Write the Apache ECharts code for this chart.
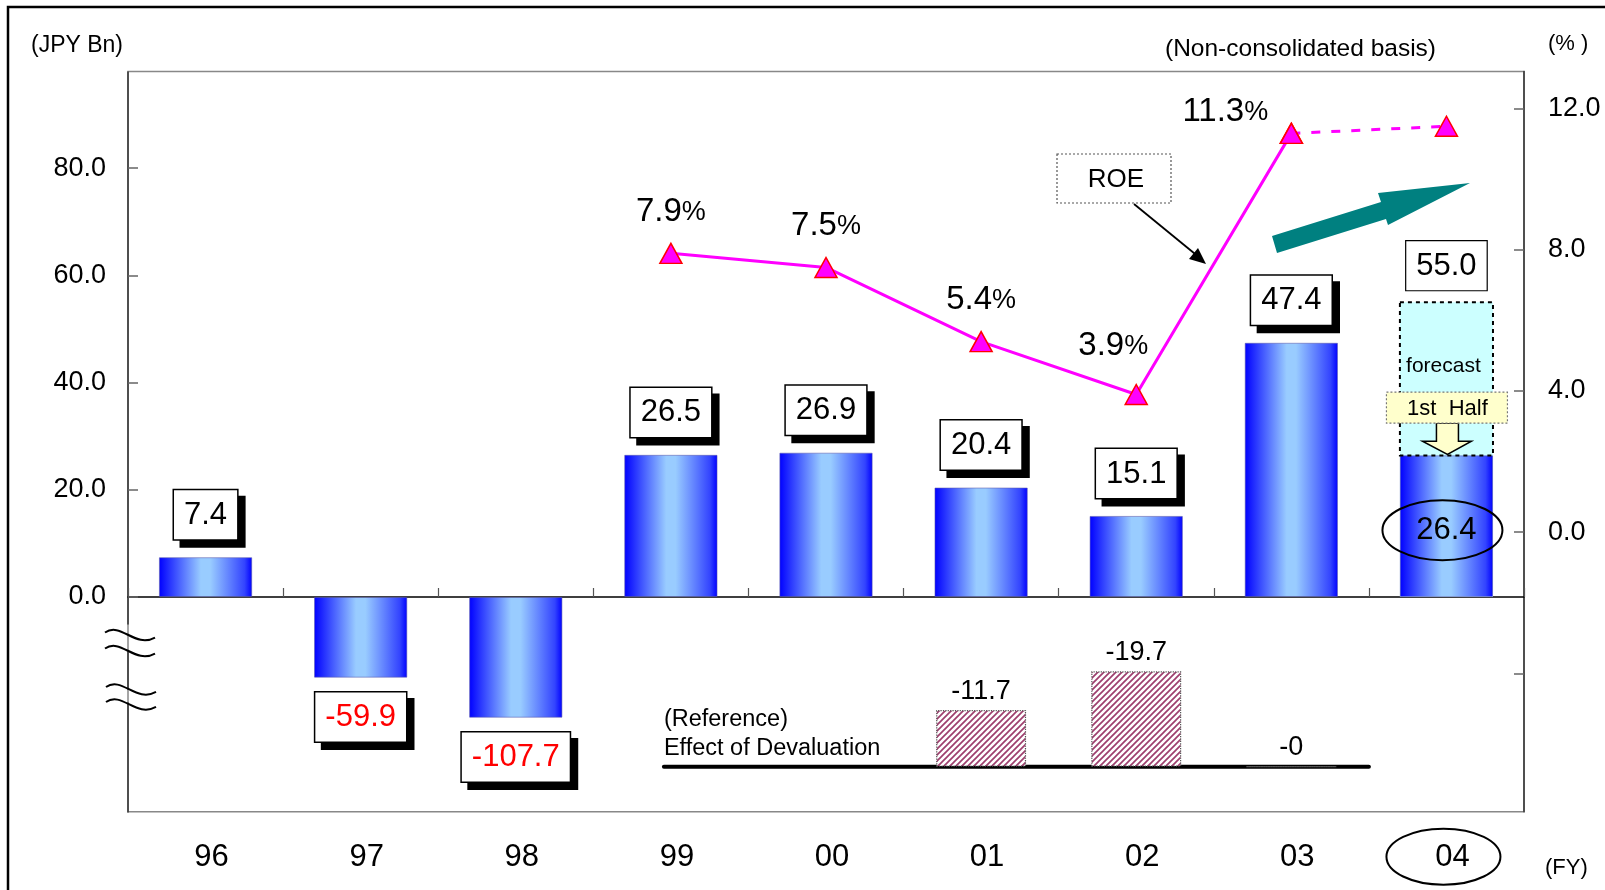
<!DOCTYPE html>
<html>
<head>
<meta charset="utf-8">
<title>Ordinary income and ROE</title>
<script src="https://cdn.jsdelivr.net/npm/echarts@6/dist/echarts.min.js"></script>
<style>
  html, body { margin: 0; padding: 0; background: #fff; }
  #main { width: 1605px; height: 890px; }
</style>
</head>
<body>
<div id="main"></div>
<script>
// ---- data ----
const fiscalYears = ['96', '97', '98', '99', '00', '01', '02', '03', '04'];
// ordinary income (JPY Bn); FY04 is the 1st-half result
const ordinaryIncome = [7.4, -59.9, -107.7, 26.5, 26.9, 20.4, 15.1, 47.4, 26.4];
// FY04 full-year forecast
const incomeForecast = [null, null, null, null, null, null, null, null, 55.0];
// ROE (%)
const roeActual = [null, null, null, 7.9, 7.5, 5.4, 3.9, 11.3, null];
const roeForecast = [null, null, null, null, null, null, null, 11.3, 11.5];
// effect of devaluation (JPY Bn)
const devaluationEffect = [null, null, null, null, null, -11.7, -19.7, -0, null];
// axis tick labels
const incomeTicks = [0, 20, 40, 60, 80];
const roeTicks = [0, 4, 8, 12];
const roeTickMarks = [-4, 0, 4, 8, 12];

const FONT = '"Liberation Sans", Arial, sans-serif';

// horizontal blue gradient of the income bars
const barFill = new echarts.graphic.LinearGradient(0, 0, 1, 0, [
  { offset: 0, color: '#0000FF' },
  { offset: 0.45, color: '#99CCFF' },
  { offset: 0.55, color: '#99CCFF' },
  { offset: 0.92, color: '#3344FF' },
  { offset: 1, color: '#0000FF' }
]);

// diagonal hatch for the devaluation bars
const hatch = document.createElement('canvas');
hatch.width = 6; hatch.height = 6;
(function () {
  const g = hatch.getContext('2d');
  g.fillStyle = '#ffffff';
  g.fillRect(0, 0, 6, 6);
  g.strokeStyle = '#9E3F6E';
  g.lineWidth = 1.7;
  g.beginPath();
  g.moveTo(-1, 7); g.lineTo(7, -1);
  g.moveTo(-1, 1); g.lineTo(1, -1);
  g.moveTo(5, 7); g.lineTo(7, 5);
  g.stroke();
})();

function incomeItemLabel(v, i) {
  if (i === fiscalYears.length - 1) {
    return {
      position: 'inside', offset: [0, 4], backgroundColor: 'transparent', borderWidth: 0,
      shadowColor: 'transparent', shadowOffsetX: 0, shadowOffsetY: 0
    };
  }
  if (v < 0) return { position: 'bottom', distance: 15, color: '#FF0000' };
  return {};
}

const roeLabelOffsets = { 6: [-23, -7], 7: [-66, 20] };

const option = {
  animation: false,
  backgroundColor: '#ffffff',
  textStyle: { fontFamily: FONT },
  grid: [
    { left: 128, right: 81, top: 71.6, bottom: 78.3, show: true, borderColor: '#888', borderWidth: 1.5, backgroundColor: 'transparent' },
    { left: 128, right: 81, top: 600, bottom: 123.3, show: false }
  ],
  xAxis: [
    {
      gridIndex: 0, type: 'category', data: fiscalYears, position: 'bottom',
      axisLine: { show: false, onZero: false }, axisTick: { show: false },
      axisLabel: { fontSize: 31, margin: 30, color: '#000', fontFamily: FONT, padding: [0, 0, 0, 12] }
    },
    {
      gridIndex: 0, type: 'category', data: fiscalYears, position: 'bottom',
      axisLine: { show: true, onZero: true, onZeroAxisIndex: 0, lineStyle: { color: '#000', width: 1.5 } },
      axisTick: { show: true, inside: true, length: 9, lineStyle: { color: '#555', width: 1.2 } },
      axisLabel: { show: false }
    },
    { gridIndex: 1, type: 'category', data: fiscalYears, show: false }
  ],
  yAxis: [
    {
      gridIndex: 0, type: 'value', position: 'left', min: -125.25, max: 98,
      breaks: [
        { start: -55, end: -5, gap: 5.13 },
        { start: -105, end: -62, gap: 2.67 }
      ],
      breakArea: { show: false },
      axisLine: { show: true, lineStyle: { color: '#333', width: 1.5 } },
      axisTick: { show: true, inside: true, length: 10, customValues: incomeTicks, lineStyle: { color: '#666', width: 1.5 } },
      axisLabel: { customValues: incomeTicks, fontSize: 27, margin: 22, color: '#000', fontFamily: FONT, padding: [5, 0, 0, 0], formatter: v => v.toFixed(1) },
      splitLine: { show: false }
    },
    {
      gridIndex: 0, type: 'value', position: 'right', min: -7.92, max: 13.05,
      axisLine: { show: true, lineStyle: { color: '#333', width: 1.5 } },
      axisTick: { show: true, inside: true, length: 10, customValues: roeTickMarks, lineStyle: { color: '#666', width: 1.5 } },
      axisLabel: { customValues: roeTicks, fontSize: 27, margin: 24, color: '#000', fontFamily: FONT, formatter: v => v.toFixed(1) },
      splitLine: { show: false }
    },
    { gridIndex: 1, type: 'value', inverse: true, min: -34.44, max: 0, show: false }
  ],
  series: [
    {
      name: 'Forecast', type: 'bar', xAxisIndex: 0, yAxisIndex: 0,
      barWidth: '60%', barGap: '-100%', z: 2,
      data: incomeForecast,
      itemStyle: { color: '#CCFFFF', borderWidth: 0 },
      label: {
        show: true, position: 'top', distance: 12, fontSize: 31, lineHeight: 32, color: '#000', fontFamily: FONT,
        backgroundColor: '#fff', borderColor: '#000', borderWidth: 1.2, padding: [9, 10, 8, 10],
        formatter: p => p.value.toFixed(1)
      }
    },
    {
      name: 'Ordinary income', type: 'bar', xAxisIndex: 0, yAxisIndex: 0,
      barWidth: '60%', barGap: '-100%', z: 3,
      data: ordinaryIncome.map((v, i) => ({ value: v, label: incomeItemLabel(v, i) })),
      itemStyle: { color: barFill, borderColor: 'rgba(90,90,170,0.7)', borderWidth: 0.8 },
      label: {
        show: true, position: 'top', distance: 18, fontSize: 31, lineHeight: 32, color: '#000', fontFamily: FONT,
        backgroundColor: '#fff', borderColor: '#000', borderWidth: 1.5, padding: [9, 10, 8, 10],
        shadowColor: '#000', shadowBlur: 0, shadowOffsetX: 7, shadowOffsetY: 7,
        formatter: p => p.value.toFixed(1)
      }
    },
    {
      name: 'ROE forecast', type: 'line', xAxisIndex: 0, yAxisIndex: 1, z: 4,
      data: roeForecast,
      symbol: 'triangle', symbolSize: [22, 20],
      lineStyle: { color: '#FF00FF', width: 3, type: [9, 11] },
      itemStyle: { color: '#FF00FF', borderColor: '#FF0000', borderWidth: 1.5 },
      label: { show: false }
    },
    {
      name: 'ROE', type: 'line', xAxisIndex: 0, yAxisIndex: 1, z: 5,
      data: roeActual.map((v, i) => roeLabelOffsets[i] ? { value: v, label: { offset: roeLabelOffsets[i] } } : v),
      symbol: 'triangle', symbolSize: [22, 20],
      lineStyle: { color: '#FF00FF', width: 3 },
      itemStyle: { color: '#FF00FF', borderColor: '#FF0000', borderWidth: 1.5 },
      label: {
        show: true, position: 'top', distance: 14,
        formatter: p => '{n|' + p.value.toFixed(1) + '}{p|%}',
        rich: {
          n: { fontSize: 33, fontFamily: FONT, color: '#000' },
          p: { fontSize: 27, fontFamily: FONT, color: '#000' }
        }
      }
    },
    {
      name: 'Effect of Devaluation', type: 'bar', xAxisIndex: 2, yAxisIndex: 2,
      barWidth: '58%', z: 3,
      data: devaluationEffect,
      itemStyle: { color: { image: hatch, repeat: 'repeat' }, borderColor: '#555', borderWidth: 1.2, borderType: 'dotted' },
      label: {
        show: true, position: 'top', distance: 5, fontSize: 27, color: '#000', fontFamily: FONT,
        formatter: p => '-' + Math.abs(p.value)
      }
    }
  ]
};

const chart = echarts.init(document.getElementById('main'), null, { renderer: 'canvas' });
chart.setOption(option);

// ---- annotations placed from the axes ----
const at = (cat, v) => chart.convertToPixel({ seriesIndex: 1 }, [cat, v]);
const atDev = (cat, v) => chart.convertToPixel({ seriesIndex: 4 }, [cat, v]);
const yInc = v => chart.convertToPixel({ yAxisIndex: 0 }, v);
const band = at('04', 0)[0] - at('03', 0)[0];
const xLeft = at('96', 0)[0] - band / 2;
const gridBottom = yInc(-125.25);

const txt = (text, x, y, size, extra) => Object.assign({
  type: 'text', z: 20,
  style: Object.assign({ text: text, x: x, y: y, fontSize: size, fontFamily: FONT, fill: '#000', textVerticalAlign: 'middle' }, extra || {})
});

function squiggle(x0, y) {
  return {
    type: 'bezierCurve', z: 20,
    shape: { x1: x0, y1: y - 3, cpx1: x0 + 16, cpy1: y - 14, cpx2: x0 + 30, cpy2: y + 13, x2: x0 + 50, y2: y + 2 },
    style: { stroke: '#000', lineWidth: 2, fill: null }
  };
}

const elements = [];
// outer frame
elements.push({ type: 'polyline', z: 20, shape: { points: [[8, 900], [8, 7], [1620, 7]] }, style: { stroke: '#000', lineWidth: 2.5, fill: null } });
// unit captions
elements.push(txt('(JPY Bn)', 31, 46, 23));
elements.push(txt('(Non-consolidated basis)', 1165, 49, 24.5));
elements.push(txt('(% )', 1548, 44, 22));
elements.push(txt('(FY)', 1545, 868, 22));

// axis break marks on the income axis
const breakA = (yInc(-5) + yInc(-55)) / 2;
const breakB = (yInc(-62) + yInc(-105)) / 2;
elements.push(squiggle(xLeft - 23, breakA - 2), squiggle(xLeft - 23, breakA + 14));
elements.push(squiggle(xLeft - 22, breakB - 6), squiggle(xLeft - 22, breakB + 9));

// ROE callout
elements.push({ type: 'rect', z: 20, shape: { x: 1057, y: 154, width: 114, height: 49 }, style: { fill: '#fff', stroke: '#555', lineWidth: 1.2, lineDash: [2, 2] } });
elements.push(txt('ROE', 1116, 180, 26, { textAlign: 'center' }));
elements.push({ type: 'line', z: 20, shape: { x1: 1134, y1: 204, x2: 1200, y2: 258 }, style: { stroke: '#000', lineWidth: 1.8 } });
elements.push({ type: 'polygon', z: 20, shape: { points: [[1206, 264], [1189, 259], [1198, 248]] }, style: { fill: '#000' } });

// upward trend arrow
elements.push({
  type: 'polygon', z: 20,
  shape: { points: [[1272, 236], [1381, 202], [1378, 193], [1470, 183], [1388, 225], [1386, 219], [1277, 253]] },
  style: { fill: '#008080' }
});

// FY04 forecast annotations
const p55 = at('04', 55);
const p264 = at('04', 26.4);
const cx = p55[0];
const bw = band * 0.6;
// dashed outline of the forecast part of the bar
elements.push({
  type: 'rect', z: 15,
  shape: { x: cx - bw / 2, y: p55[1], width: bw, height: p264[1] - p55[1] },
  style: { fill: null, stroke: '#000', lineWidth: 2, lineDash: [4, 4] }
});
elements.push(txt('forecast', cx - 3, p55[1] + 64, 21, { textAlign: 'center' }));
const boxTop = p55[1] + 90;
elements.push({ type: 'rect', z: 20, shape: { x: cx - 60, y: boxTop, width: 121, height: 31 }, style: { fill: '#FFFFCC', stroke: '#777', lineWidth: 1.2, lineDash: [2, 2] } });
elements.push(txt('1st  Half', cx + 1, boxTop + 17, 22, { textAlign: 'center' }));
const aTop = boxTop + 31, aTip = p264[1] - 1;
elements.push({
  type: 'polygon', z: 19,
  shape: { points: [[cx - 10, aTop], [cx + 12, aTop], [cx + 12, aTop + 18], [cx + 25, aTop + 18], [cx + 1, aTip], [cx - 24, aTop + 18], [cx - 10, aTop + 18]] },
  style: { fill: '#FFFFCC', stroke: '#000', lineWidth: 1.5 }
});
// highlight rings for FY04
const pMid = at('04', 26.4 / 2);
elements.push({ type: 'ellipse', z: 20, shape: { cx: cx - 4, cy: pMid[1] + 4, rx: 60, ry: 30 }, style: { fill: null, stroke: '#000', lineWidth: 2 } });
elements.push({ type: 'ellipse', z: 20, shape: { cx: cx - 3, cy: gridBottom + 45, rx: 57, ry: 28 }, style: { fill: null, stroke: '#000', lineWidth: 2 } });

// devaluation reference panel
const base = atDev('99', 0);
const xEnd = (atDev('03', 0)[0] + atDev('04', 0)[0]) / 2;
elements.push(txt('(Reference)', base[0] - 7, base[1] - 47, 23.5));
elements.push(txt('Effect of Devaluation', base[0] - 7, base[1] - 18, 23.5));
elements.push({ type: 'line', z: 2, shape: { x1: base[0] - 7, y1: base[1], x2: xEnd, y2: base[1] }, style: { stroke: '#000', lineWidth: 4, lineCap: 'round' } });

chart.setOption({ graphic: { elements: elements } });
</script>
</body>
</html>
